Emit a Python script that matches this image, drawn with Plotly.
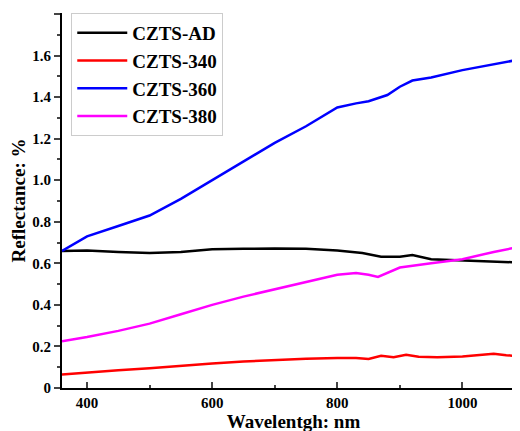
import plotly.graph_objects as go

# data
wl_ad = [360, 400, 450, 500, 550, 600, 650, 700, 750, 800, 840, 870, 900, 920, 950, 1000, 1050, 1100]
r_ad = [0.660, 0.662, 0.655, 0.650, 0.655, 0.668, 0.670, 0.672, 0.670, 0.662, 0.650, 0.632, 0.632, 0.640, 0.620, 0.615, 0.610, 0.603]

wl_340 = [360, 400, 450, 500, 550, 600, 650, 700, 750, 800, 830, 850, 870, 890, 910, 930, 960, 1000, 1030, 1050, 1070, 1100]
r_340 = [0.065, 0.075, 0.085, 0.095, 0.108, 0.118, 0.127, 0.135, 0.141, 0.145, 0.145, 0.140, 0.155, 0.148, 0.160, 0.150, 0.148, 0.152, 0.160, 0.165, 0.158, 0.150]

wl_360 = [360, 400, 450, 500, 550, 600, 650, 700, 750, 800, 830, 850, 880, 900, 920, 950, 1000, 1050, 1080, 1100]
r_360 = [0.660, 0.730, 0.780, 0.830, 0.910, 1.000, 1.090, 1.180, 1.260, 1.350, 1.370, 1.380, 1.410, 1.450, 1.480, 1.495, 1.530, 1.560, 1.575, 1.578]

wl_380 = [360, 400, 450, 500, 550, 600, 650, 700, 750, 800, 830, 850, 865, 880, 900, 950, 1000, 1050, 1100]
r_380 = [0.225, 0.245, 0.275, 0.310, 0.355, 0.400, 0.440, 0.475, 0.510, 0.545, 0.553, 0.545, 0.535, 0.555, 0.580, 0.600, 0.620, 0.655, 0.685]

series = [
    ("CZTS-AD", wl_ad, r_ad, "black"),
    ("CZTS-340", wl_340, r_340, "red"),
    ("CZTS-360", wl_360, r_360, "blue"),
    ("CZTS-380", wl_380, r_380, "magenta"),
]

fig = go.Figure()
for name, x, y, c in series:
    fig.add_trace(go.Scatter(x=x, y=y, name=name, mode="lines",
                             line=dict(color=c, width=2.5)))

font = "Liberation Serif"
fig.update_layout(
    width=520, height=431,
    margin=dict(l=54, r=3, t=5, b=51),
    plot_bgcolor="white", paper_bgcolor="white",
    font=dict(family=font, size=14, color="black"),
    showlegend=True,
    legend=dict(x=0.02, y=1.0, xanchor="left", yanchor="top",
                bordercolor="#cccccc", borderwidth=1, bgcolor="white",
                font=dict(size=19, family=font, weight="bold"),
                tracegroupgap=0, itemwidth=50),
    xaxis=dict(range=[360, 1100], tickvals=[400, 600, 800, 1000],
               ticks="inside", ticklen=6, tickwidth=2, showline=True,
               linewidth=2, linecolor="black", showgrid=False, zeroline=False,
               minor=dict(dtick=100, ticks="inside", ticklen=3, tickwidth=2),
               tickfont=dict(size=15, family=font, weight="bold"),
               title=dict(text="Wavelentgh: nm", standoff=2,
                          font=dict(size=19, family=font, weight="bold"))),
    yaxis=dict(range=[0, 1.805], tickvals=[0, 0.2, 0.4, 0.6, 0.8, 1.0, 1.2, 1.4, 1.6, 1.8],
               ticktext=["0", "0.2", "0.4", "0.6", "0.8", "1.0", "1.2", "1.4", "1.6", "1.8"],
               ticks="outside", ticklen=6, tickwidth=2, showline=True,
               linewidth=2, linecolor="black", showgrid=False, zeroline=False,
               minor=dict(dtick=0.1, ticks="outside", ticklen=3, tickwidth=2),
               tickfont=dict(size=15, family=font, weight="bold"),
               title=dict(text="Reflectance: %", standoff=6,
                          font=dict(size=19, family=font, weight="bold"))),
)

fig.write_html("out.html")
